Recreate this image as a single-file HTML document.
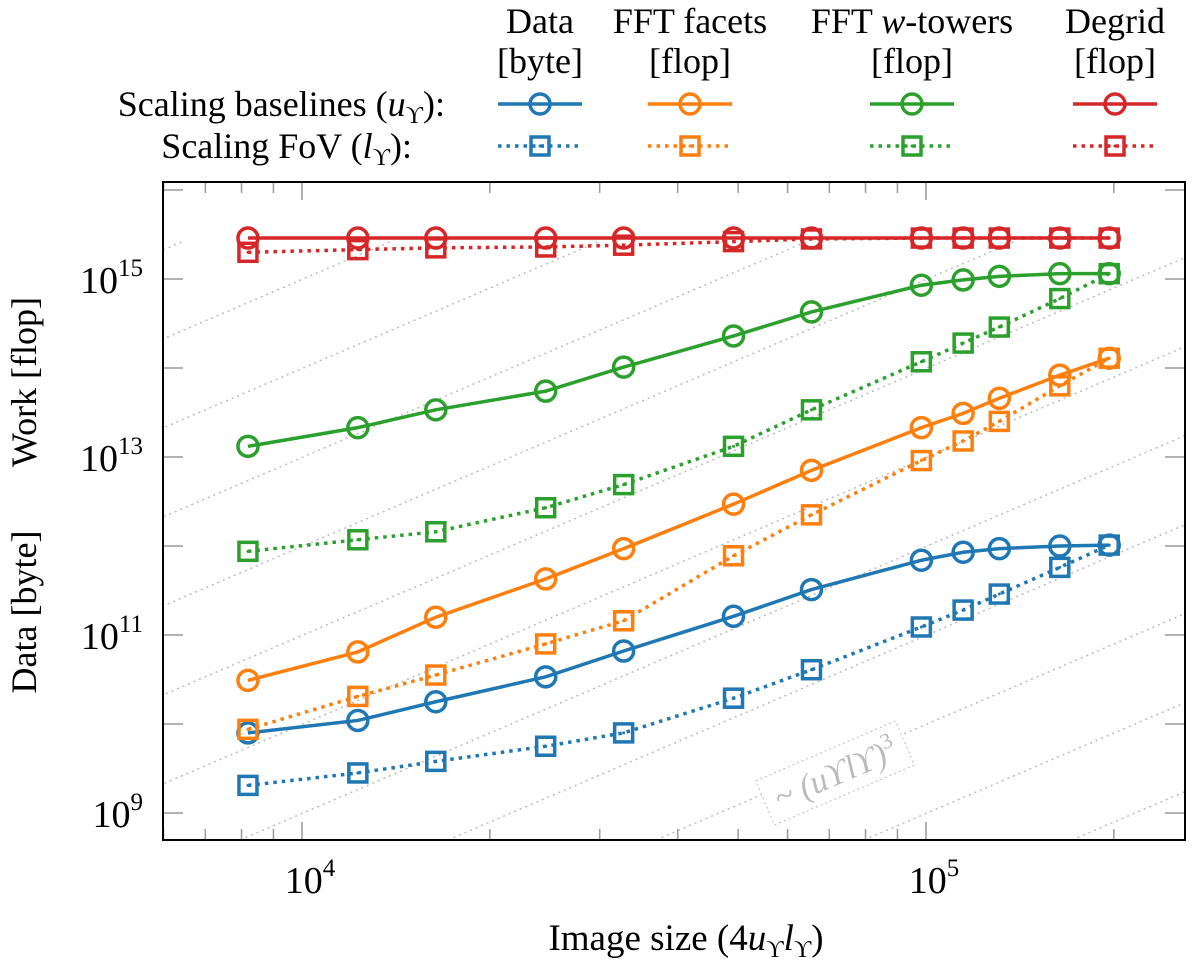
<!DOCTYPE html>
<html><head><meta charset="utf-8"><style>
body{margin:0;background:#fff}
svg{font-family:"Liberation Serif",serif}
</style></head><body>
<svg id="chart" width="1200" height="966" viewBox="0 0 1200 966">
<defs><clipPath id="pc"><rect x="163" y="182" width="1022" height="658"/></clipPath></defs>
<g id="guides" clip-path="url(#pc)"></g>
<g id="ticks"></g>
<rect x="163" y="182" width="1022" height="658" fill="none" stroke="#000" stroke-width="2"/>
<g transform="translate(835,773) rotate(-23.2)">
<rect x="-76" y="-24" width="152" height="48" fill="#fff" stroke="#bbb" stroke-dasharray="2,3"/>
<text x="0" y="12" text-anchor="middle" font-size="34" fill="#bbb" font-style="italic">~ (uϒlϒ)<tspan font-size="22" dy="-14" font-style="normal">3</tspan></text>
</g>
<g id="series" clip-path="url(#pc)"></g>
<g id="labels"></g>
<text x="686" y="950" text-anchor="middle" font-size="37">Image size (4<tspan font-style="italic">u</tspan><tspan font-size="24" dy="7">ϒ</tspan><tspan dy="-7" font-style="italic">l</tspan><tspan font-size="24" dy="7">ϒ</tspan><tspan dy="-7">)</tspan></text>
<text transform="translate(36,382) rotate(-90)" text-anchor="middle" font-size="36">Work [flop]</text>
<text transform="translate(36,612) rotate(-90)" text-anchor="middle" font-size="36">Data [byte]</text>
<g id="legend"></g>
</svg>
<script>
const sizes=[8192,12288,16384,24576,32768,49152,65536,98304,114688,131072,163840,196608];
const dataU=[9.90,10.04,10.25,10.53,10.82,11.21,11.51,11.84,11.93,11.97,12.00,12.01];
const dataL=[9.31,9.45,9.58,9.75,9.90,10.29,10.61,11.09,11.28,11.46,11.76,12.01];
const facetU=[10.49,10.81,11.20,11.63,11.97,12.47,12.85,13.33,13.49,13.66,13.92,14.11];
const facetL=[9.94,10.31,10.55,10.90,11.16,11.89,12.35,12.96,13.18,13.40,13.80,14.11];
const towerU=[13.12,13.33,13.53,13.74,14.01,14.36,14.63,14.93,14.99,15.03,15.06,15.06];
const towerL=[11.94,12.07,12.16,12.43,12.69,13.12,13.53,14.07,14.28,14.46,14.78,15.06];
const degridU=[15.46,15.46,15.46,15.46,15.46,15.46,15.46,15.46,15.46,15.46,15.46,15.46];
const degridL=[15.30,15.33,15.35,15.36,15.38,15.42,15.45,15.46,15.46,15.46,15.46,15.46];
const yTickExps=[9,11,13,15];
const xTickExps=[4,5];
const colors=["#1f77b4","#ff7f0e","#2ca02c","#d62728"];
const NS="http://www.w3.org/2000/svg";
const X=v=>302+(Math.log10(v)-4)*624;
const Y=e=>279-(e-15)*89;
function mk(t,a,p){const e=document.createElementNS(NS,t);for(const k in a)e.setAttribute(k,a[k]);p.appendChild(e);return e;}
const G=id=>document.getElementById(id);
for(let k=-9;k<6;k++){const x0=240+k*208;const l=mk("line",{x1:x0,y1:840,x2:x0+1400,y2:840-1400*267/624,stroke:"#bbb","stroke-width":1.5,"stroke-dasharray":"2,4"},G("guides"));

}
for(let e=3;e<=5;e++)for(let m=1;m<10;m++){const v=m*Math.pow(10,e);const x=X(v);if(x<163||x>1185)continue;const len=m==1?18:11;
mk("line",{x1:x,y1:840,x2:x,y2:840-len,stroke:"#999","stroke-width":1.5},G("ticks"));
mk("line",{x1:x,y1:182,x2:x,y2:182+len,stroke:"#999","stroke-width":1.5},G("ticks"));}
for(let e=8;e<=16;e++){const y=Y(e);if(y<182||y>840)continue;
mk("line",{x1:163,y1:y,x2:183,y2:y,stroke:"#999","stroke-width":1.5},G("ticks"));
mk("line",{x1:1165,y1:y,x2:1185,y2:y,stroke:"#999","stroke-width":1.5},G("ticks"));}
yTickExps.forEach(e=>{const t=mk("text",{x:143,y:Y(e)+14,"text-anchor":"end","font-size":38},G("labels"));t.innerHTML='10<tspan font-size="25" dy="-17">'+e+'</tspan>';

});
xTickExps.forEach(e=>{const t=mk("text",{x:X(Math.pow(10,e))+8,y:893,"text-anchor":"middle","font-size":38},G("labels"));t.innerHTML='10<tspan font-size="25" dy="-17">'+e+'</tspan>';

});
function marker(g,x,y,sq,c){if(sq){mk("rect",{x:x-9,y:y-9,width:18,height:18,fill:"none",stroke:c,"stroke-width":3.5},g);mk("circle",{cx:x,cy:y,r:1.5,fill:c},g);}else mk("circle",{cx:x,cy:y,r:10,fill:"none",stroke:c,"stroke-width":3.5},g);}
const series=[[dataU,0,0,"data-baselines"],[dataL,0,1,"data-fov"],[facetU,1,0,"facets-baselines"],[facetL,1,1,"facets-fov"],[towerU,2,0,"towers-baselines"],[towerL,2,1,"towers-fov"],[degridL,3,1,"degrid-fov"],[degridU,3,0,"degrid-baselines"]];
series.forEach(([vals,ci,sq,name])=>{const g=mk("g",{},G("series"));


const c=colors[ci];const pts=vals.map((v,i)=>X(sizes[i])+","+Y(v)).join(" ");
const a={points:pts,fill:"none",stroke:c,"stroke-width":3.5};if(sq)a["stroke-dasharray"]="3.5,5";mk("polyline",a,g);
vals.forEach((v,i)=>marker(g,X(sizes[i]),Y(v),sq,c));});
const lg=G("legend");
const heads=[["Data","[byte]",540],["FFT facets","[flop]",690],["FFT <tspan font-style='italic'>w</tspan>-towers","[flop]",912],["Degrid","[flop]",1115]];
heads.forEach(([a,b,x],i)=>{const t1=mk("text",{x:x,y:33,"text-anchor":"middle","font-size":36},lg);t1.innerHTML=a;


const t2=mk("text",{x:x,y:73,"text-anchor":"middle","font-size":36},lg);t2.textContent=b;


[0,1].forEach(r=>{const y=r?146:104;const g=mk("g",{},lg);


const a={x1:x-42,y1:y,x2:x+42,y2:y,stroke:colors[i],"stroke-width":3.5};if(r)a["stroke-dasharray"]="3.5,5";mk("line",a,g);marker(g,x,y,r,colors[i]);});});
const r1=mk("text",{x:445,y:116,"text-anchor":"end","font-size":36},lg);r1.innerHTML='Scaling baselines (<tspan font-style="italic">u</tspan><tspan font-size="24" dy="7">ϒ</tspan><tspan dy="-7">):</tspan>';


const r2=mk("text",{x:412,y:158,"text-anchor":"end","font-size":36},lg);r2.innerHTML='Scaling FoV (<tspan font-style="italic">l</tspan><tspan font-size="24" dy="7">ϒ</tspan><tspan dy="-7">):</tspan>';


</script>
</body></html>
